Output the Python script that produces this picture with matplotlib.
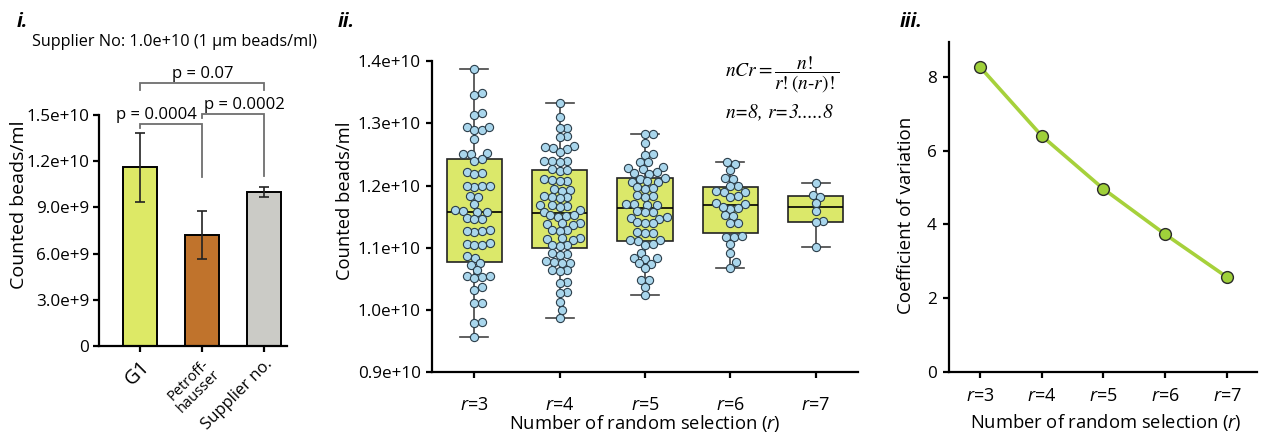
import numpy as np
import matplotlib
matplotlib.use("Agg")
import matplotlib.pyplot as plt

plt.rcParams['font.family'] = ['Open Sans', 'DejaVu Sans']
plt.rcParams['mathtext.fontset'] = 'custom'
plt.rcParams['mathtext.rm'] = 'Open Sans'
plt.rcParams['mathtext.it'] = 'Open Sans:italic'

# ---------------- data ----------------
# Panel i
bar_labels = ["G1", "Petroff-\nhausser", "Supplier no."]
bar_values = [1.160e10, 0.721e10, 1.002e10]
bar_errors = [0.224e10, 0.157e10, 0.032e10]
bar_colors = ["#dde966", "#c0732c", "#cbcbc6"]
p_labels = ["p = 0.0004", "p = 0.0002", "p = 0.07"]
supplier_note = "Supplier No: 1.0e+10 (1 \u00b5m beads/ml)"
bar_yticks = [0, 3.0e9, 6.0e9, 9.0e9, 1.2e10, 1.5e10]
bar_yticklabels = ["0", "3.0e+9", "6.0e+9", "9.0e+9", "1.2e+10", "1.5e+10"]

# Panel ii (values in units of 1e10 beads/ml)
r_labels = ["$\\mathit{r}$=3", "$\\mathit{r}$=4", "$\\mathit{r}$=5", "$\\mathit{r}$=6", "$\\mathit{r}$=7"]
counts_r3 = [1.387, 1.348, 1.345, 1.317, 1.313, 1.294, 1.289, 1.289, 1.294, 1.275,
             1.252, 1.250, 1.251, 1.243, 1.239, 1.220, 1.221, 1.219, 1.199, 1.198,
             1.200, 1.199, 1.183, 1.181, 1.170, 1.160, 1.158, 1.157, 1.159, 1.148,
             1.147, 1.146, 1.128, 1.127, 1.126, 1.127, 1.107, 1.106, 1.104, 1.105,
             1.086, 1.084, 1.075, 1.073, 1.064, 1.054, 1.053, 1.052, 1.055, 1.037,
             1.032, 1.012, 1.011, 0.980, 0.979, 0.956]
counts_r4 = [1.333, 1.310, 1.293, 1.292, 1.280, 1.278, 1.263, 1.261, 1.259, 1.262,
             1.254, 1.240, 1.239, 1.238, 1.240, 1.226, 1.224, 1.225, 1.210, 1.208,
             1.209, 1.207, 1.195, 1.193, 1.192, 1.182, 1.181, 1.183, 1.180, 1.168,
             1.167, 1.169, 1.166, 1.160, 1.158, 1.152, 1.151, 1.153, 1.150, 1.139,
             1.138, 1.140, 1.137, 1.128, 1.127, 1.129, 1.115, 1.114, 1.116, 1.113,
             1.104, 1.103, 1.105, 1.090, 1.089, 1.091, 1.077, 1.076, 1.078, 1.075,
             1.064, 1.063, 1.065, 1.045, 1.044, 1.029, 1.028, 1.013, 1.000, 0.988]
counts_r5 = [1.283, 1.282, 1.269, 1.251, 1.249, 1.238, 1.237, 1.228, 1.227, 1.229,
             1.220, 1.219, 1.221, 1.212, 1.211, 1.206, 1.205, 1.207, 1.196, 1.195,
             1.197, 1.183, 1.182, 1.184, 1.170, 1.169, 1.171, 1.168, 1.158, 1.157,
             1.159, 1.148, 1.147, 1.149, 1.140, 1.139, 1.141, 1.124, 1.123, 1.125,
             1.112, 1.111, 1.113, 1.106, 1.105, 1.092, 1.083, 1.082, 1.084, 1.075,
             1.074, 1.067, 1.049, 1.048, 1.037, 1.024]
counts_r6 = [1.237, 1.235, 1.225, 1.212, 1.211, 1.200, 1.199, 1.190, 1.189, 1.191,
             1.183, 1.182, 1.172, 1.171, 1.164, 1.163, 1.165, 1.152, 1.151, 1.140,
             1.139, 1.118, 1.117, 1.119, 1.106, 1.091, 1.077, 1.068]
counts_r7 = [1.204, 1.184, 1.182, 1.172, 1.159, 1.143, 1.141, 1.101]
box_yticks = [0.9e10, 1.0e10, 1.1e10, 1.2e10, 1.3e10, 1.4e10]
box_yticklabels = ["0.9e+10", "1.0e+10", "1.1e+10", "1.2e+10", "1.3e+10", "1.4e+10"]

# Panel iii
cv_values = [8.27, 6.40, 4.96, 3.73, 2.57]
cv_yticks = [0, 2, 4, 6, 8]

# ---------------- figure ----------------
W, H = 1261, 433
fig = plt.figure(figsize=(W / 100, H / 100), dpi=100)

def axes_px(left, right, top, bottom):
    return fig.add_axes([left / W, (H - bottom) / H, (right - left) / W, (bottom - top) / H])

SPINE_W = 1.6
TICK_FS = 12.3
XTICK_FS = 13
LABEL_FS = 13.2
DARK = "#222222"

def style_axes(ax):
    for s in ['top', 'right']:
        ax.spines[s].set_visible(False)
    for s in ['left', 'bottom']:
        ax.spines[s].set_linewidth(SPINE_W)
        ax.spines[s].set_color('black')
    ax.tick_params(width=SPINE_W, length=4, color='black', labelsize=TICK_FS)

# ---------- Panel i ----------
ax1 = axes_px(99, 287, 115, 346)
style_axes(ax1)
xb = np.arange(len(bar_values))
ax1.bar(xb, bar_values, width=0.56, color=bar_colors, edgecolor='black', linewidth=1.4, zorder=2)
ax1.errorbar(xb, bar_values, yerr=bar_errors, fmt='none', ecolor=DARK, elinewidth=1.2,
             capsize=3.5, capthick=1.2, zorder=3)
ax1.set_xlim(-0.66, 2.37)
ax1.set_ylim(0, 1.5e10)
ax1.set_yticks(bar_yticks)
ax1.set_yticklabels(bar_yticklabels)
ax1.tick_params(axis='y', pad=3)
ax1.set_xticks(xb)
ax1.set_xticklabels(bar_labels, rotation=45, ha='right', rotation_mode='anchor')
tl = ax1.get_xticklabels()
tl[0].set_fontsize(14.5)
tl[1].set_fontsize(10.5)
tl[1].set_linespacing(0.95)
tl[2].set_fontsize(12)
ax1.set_ylabel("Counted beads/ml", fontsize=14)
ax1.yaxis.set_label_coords(-0.38, 0.61)

bc = "#6e6e6e"
def bracket(x0, x1, ytop, y0bot, y1bot):
    ax1.plot([x0, x0, x1, x1], [y0bot, ytop, ytop, y1bot], color=bc, lw=1.3,
             clip_on=False, zorder=4, solid_joinstyle='miter')

bracket(0, 1, 1.442e10, 1.416e10, 1.098e10)
bracket(1, 2, 1.507e10, 1.481e10, 1.104e10)
bracket(0, 2, 1.708e10, 1.662e10, 1.662e10)
ax1.text(0.27, 1.447e10, p_labels[0], ha='center', va='bottom', fontsize=12, clip_on=False)
ax1.text(1.69, 1.513e10, p_labels[1], ha='center', va='bottom', fontsize=12, clip_on=False)
ax1.text(1.02, 1.715e10, p_labels[2], ha='center', va='bottom', fontsize=12, clip_on=False)
fig.text(32 / W, 1 - 42 / H, supplier_note, ha='left', va='center', fontsize=11.7)
fig.text(22 / W, 1 - 22 / H, "i.", ha='center', va='center', fontsize=14,
         fontweight='bold', fontstyle='italic')

# ---------- Panel ii ----------
L2, R2, T2, B2 = 431.7, 858.3, 61, 372.3
ax2 = axes_px(L2, R2, T2, B2)
style_axes(ax2)
xlim2 = (2.5, 7.5)
ylim2 = (0.9e10, 1.4e10)
ax2.set_xlim(*xlim2)
ax2.set_ylim(*ylim2)
groups = [counts_r3, counts_r4, counts_r5, counts_r6, counts_r7]
positions = [3, 4, 5, 6, 7]
stats = []
for g in groups:
    v = np.asarray(g) * 1e10
    q1, med, q3 = np.percentile(v, [25, 50, 75], method='weibull')
    stats.append(dict(med=med, q1=q1, q3=q3, whislo=v.min(), whishi=v.max(), fliers=[]))
ax2.bxp(stats, positions=positions, widths=0.645, patch_artist=True, showfliers=False,
        boxprops=dict(facecolor="#dbe86a", edgecolor=DARK, linewidth=1.2),
        medianprops=dict(color='black', linewidth=1.2),
        whiskerprops=dict(color="#444444", linewidth=1.2),
        capprops=dict(color="#444444", linewidth=1.2),
        capwidths=0.33, manage_ticks=False, zorder=2)

ppx = (R2 - L2) / (xlim2[1] - xlim2[0])
ppy = (B2 - T2) / (ylim2[1] - ylim2[0])
D_PX = 7.8

def swarm_offsets(vals):
    vals = np.asarray(vals)
    order = np.argsort(vals, kind='stable')
    px_list, py_list = [], []
    xs = np.zeros(len(vals))
    for i in order:
        y = vals[i] * ppy
        cands = [0.0]
        for px, py in zip(px_list, py_list):
            dy = y - py
            if abs(dy) < D_PX:
                dx = np.sqrt(D_PX ** 2 - dy ** 2)
                cands += [px + dx, px - dx]
        cands.sort(key=lambda c: (abs(c), -c))
        chosen = 0.0
        for c in cands:
            if all((c - px) ** 2 + (y - py) ** 2 >= D_PX ** 2 - 1e-6 for px, py in zip(px_list, py_list)):
                chosen = c
                break
        px_list.append(chosen)
        py_list.append(y)
        xs[i] = chosen / ppx
    return xs

for pos, g in zip(positions, groups):
    v = np.asarray(g) * 1e10
    off = swarm_offsets(v)
    ax2.scatter(pos + off, v, s=(8.2 * 0.72) ** 2, facecolor="#a9d6ec", edgecolor="#2c3e4a",
                linewidth=0.8, zorder=5, clip_on=False)

ax2.set_xticks(positions)
ax2.set_xticklabels(r_labels)
ax2.tick_params(axis='x', pad=13, labelsize=XTICK_FS)
ax2.set_yticks(box_yticks)
ax2.set_yticklabels(box_yticklabels)
ax2.tick_params(axis='y', pad=4)
ax2.set_ylabel("Counted beads/ml", fontsize=LABEL_FS)
ax2.yaxis.set_label_coords(-0.182, 0.55)
ax2.set_xlabel("Number of random selection ($\\mathit{r}$)", fontsize=LABEL_FS)
ax2.xaxis.set_label_coords(0.5, -0.13)
ax2.text(5.94, 1.3775e10, r"$nCr=\dfrac{n!}{r!(n\text{-}r)!}$", math_fontfamily='stix',
         fontsize=14, ha='left', va='center')
ax2.text(5.94, 1.3165e10, "$n$=8, $r$=3.....8", math_fontfamily='stix',
         fontsize=14, ha='left', va='center', family='STIXGeneral', fontstyle='italic')
fig.text(346 / W, 1 - 22 / H, "ii.", ha='center', va='center', fontsize=14,
         fontweight='bold', fontstyle='italic')

# ---------- Panel iii ----------
ax3 = axes_px(949, 1256.7, 41.7, 372)
style_axes(ax3)
xr = np.arange(3, 3 + len(cv_values))
ax3.plot(xr, cv_values, color="#a6d13b", lw=2.6, zorder=2)
ax3.plot(xr, cv_values, 'o', ms=8.5, markerfacecolor="#9fd03a", markeredgecolor="#2a2a2a",
         markeredgewidth=1.0, zorder=3, clip_on=False)
ax3.set_xlim(2.5, 7.48)
ax3.set_ylim(0, 8.95)
ax3.set_yticks(cv_yticks)
ax3.set_xticks(xr)
ax3.set_xticklabels(r_labels)
ax3.tick_params(axis='x', pad=7, labelsize=XTICK_FS)
ax3.tick_params(axis='y', pad=5)
ax3.set_ylabel("Coefficient of variation", fontsize=LABEL_FS + 0.3)
ax3.yaxis.set_label_coords(-0.11, 0.474)
ax3.set_xlabel("Number of random selection ($\\mathit{r}$)", fontsize=LABEL_FS)
ax3.xaxis.set_label_coords(0.51, -0.122)
fig.text(911 / W, 1 - 22 / H, "iii.", ha='center', va='center', fontsize=14,
         fontweight='bold', fontstyle='italic')

fig.savefig("out.png", dpi=100)
